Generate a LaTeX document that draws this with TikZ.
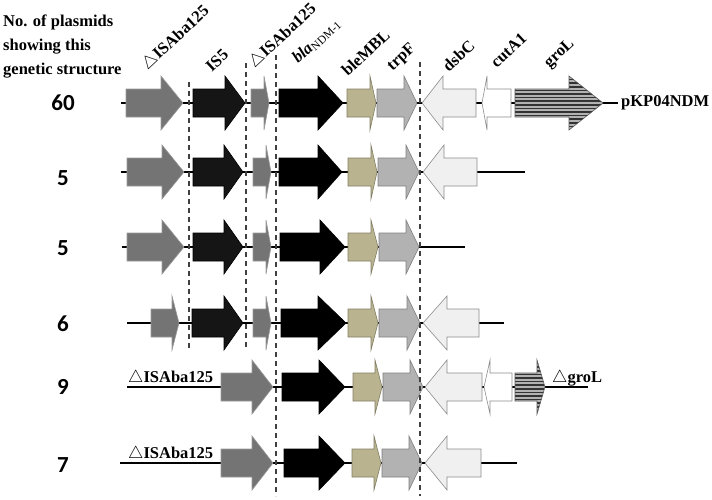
\documentclass[tikz,border=0pt]{standalone}
\usepackage{fontspec}
\setmainfont{Liberation Serif}
\newfontfamily\numfont{Carlito}
\newcommand\garR[5]{\path[#5] (#1,{#4-14}) -- (#2,{#4-14}) -- (#2,{#4-27}) -- (#3,#4) -- (#2,{#4+27}) -- (#2,{#4+14}) -- (#1,{#4+14}) -- cycle;}
\newcommand\garL[5]{\path[#5] (#3,{#4-14}) -- (#2,{#4-14}) -- (#2,{#4-27}) -- (#1,#4) -- (#2,{#4+27}) -- (#2,{#4+14}) -- (#3,{#4+14}) -- cycle;}
\definecolor{isagray}{HTML}{747474}
\definecolor{isblack}{HTML}{151515}
\definecolor{khaki}{HTML}{B9B48F}
\definecolor{trpgray}{HTML}{B2B2B2}
\definecolor{dsbgray}{HTML}{F0F0F0}
\begin{document}
\begin{tikzpicture}[x=1pt,y=-1pt,
  isa/.style={fill=isagray,draw=gray!80,line width=0.6pt},
  is5/.style={fill=isblack,draw=black,line width=0.6pt},
  blk/.style={fill=black,draw=black,line width=0.6pt},
  ble/.style={fill=khaki,draw=khaki!70!black,line width=0.6pt},
  trp/.style={fill=trpgray,draw=gray,line width=0.6pt},
  dsb/.style={fill=dsbgray,draw=gray!90,line width=0.6pt},
  cut/.style={fill=white,draw=gray!90,line width=0.6pt},
  gro/.style={fill=gray!60,draw=gray!70!black,line width=0.6pt,
    path picture={\foreach \k in {0,...,20}{\draw[black!80,line width=1.7pt]
      ([yshift=-\k*3.6pt]path picture bounding box.north west) --
      ([yshift=-\k*3.6pt]path picture bounding box.north east);}}},
  bb/.style={line width=1.2pt,black},
  dl/.style={dashed,line width=1.3pt,black!75,dash pattern=on 5pt off 4pt},
  lbl/.style={font=\bfseries\fontsize{16.5}{18}\selectfont,inner sep=0pt},
  toplbl/.style={lbl,rotate=43,anchor=south west},
  num/.style={font=\numfont\bfseries\fontsize{23}{23}\selectfont,inner sep=0pt}]
\useasboundingbox (0,0) rectangle (712,499);

% header
\node[lbl,anchor=north west,align=left,font=\bfseries\fontsize{16.5}{24}\selectfont] (hdr) at (3,15)
  {No. of plasmids\\showing this\\genetic structure};

% top labels
\node[toplbl] (l1) at (150,73) {$\triangle$ISAba125};
\node[toplbl] (l2) at (212,73) {IS5};
\node[toplbl] (l3) at (257,71) {$\triangle$ISAba125};
\node[toplbl] (l4) at (300,66) {\textit{bla}\textsubscript{\mdseries NDM-1}};
\node[toplbl] (l5) at (348,77) {bleMBL};
\node[toplbl] (l6) at (395,74) {trpF};
\node[toplbl] (l7) at (449,73) {dsbC};
\node[toplbl] (l8) at (497,69) {cutA1};
\node[toplbl] (l9) at (552,71) {groL};

% counts
\node[num] (n1) at (63,103) {60};
\node[num] (n2) at (63,178) {5};
\node[num] (n3) at (63,248) {5};
\node[num] (n4) at (63,324) {6};
\node[num] (n5) at (63,387) {9};
\node[num] (n6) at (63,465) {7};

% backbones
\draw[bb] (121,103) -- (618,103);
\draw[bb] (121,172) -- (525,172);
\draw[bb] (122,247) -- (465,247);
\draw[bb] (127,323) -- (504,323);
\draw[bb] (127,387) -- (588,387);
\draw[bb] (120,463) -- (517,463);

% row 1
\garR{126}{161}{183}{103}{isa}
\garR{193}{225}{245}{103}{is5}
\garR{251}{264}{269}{103}{isa}
\garR{279}{318}{343}{103}{blk}
\garR{347}{370}{376}{103}{ble}
\garR{377}{404}{417}{103}{trp}
\garL{422}{443}{476}{103}{dsb}
\garL{482}{487}{511}{103}{cut}
\garR{515}{569}{603}{103}{gro}
\node[lbl,anchor=west] (p1) at (621,103) {pKP04NDM};

% row 2
\garR{127}{162}{184}{172}{isa}
\garR{193}{224}{243}{172}{is5}
\garR{253}{266}{271}{172}{isa}
\garR{279}{318}{342}{172}{blk}
\garR{348}{371}{377}{172}{ble}
\garR{378}{406}{419}{172}{trp}
\garL{423}{444}{477}{172}{dsb}

% row 3
\garR{127}{162}{184}{247}{isa}
\garR{193}{224}{243}{247}{is5}
\garR{253}{266}{271}{247}{isa}
\garR{280}{320}{345}{247}{blk}
\garR{348}{371}{378}{247}{ble}
\garR{379}{406}{419}{247}{trp}

% row 4
\garR{151}{172}{179}{323}{isa}
\garR{192}{224}{243}{323}{is5}
\garR{253}{266}{271}{323}{isa}
\garR{281}{318}{346}{323}{blk}
\garR{348}{371}{378}{323}{ble}
\garR{379}{407}{420}{323}{trp}
\garL{423}{447}{479}{323}{dsb}

% row 5
\node[lbl,anchor=base west] (t5) at (128,382) {$\triangle$ISAba125};
\garR{221}{252}{273}{387}{isa}
\garR{282}{319}{345}{387}{blk}
\garR{353}{375}{382}{387}{ble}
\garR{383}{410}{423}{387}{trp}
\garL{425}{447}{482}{387}{dsb}
\garL{484}{490}{512}{387}{cut}
\garR{515}{537}{545}{387}{gro}
\node[lbl,anchor=base west] (g5) at (552,382) {$\triangle$groL};

% row 6
\node[lbl,anchor=base west] (t6) at (128,458) {$\triangle$ISAba125};
\garR{221}{252}{273}{463}{isa}
\garR{284}{319}{345}{463}{blk}
\garR{352}{374}{381}{463}{ble}
\garR{382}{409}{422}{463}{trp}
\garL{425}{447}{481}{463}{dsb}

% dashed separators
\draw[dl] (189,82) -- (189,350);
\draw[dl] (246,63) -- (246,350);
\draw[dl] (276,55) -- (276,496);
\draw[dl] (420,62) -- (420,496);
\end{tikzpicture}
\end{document}
